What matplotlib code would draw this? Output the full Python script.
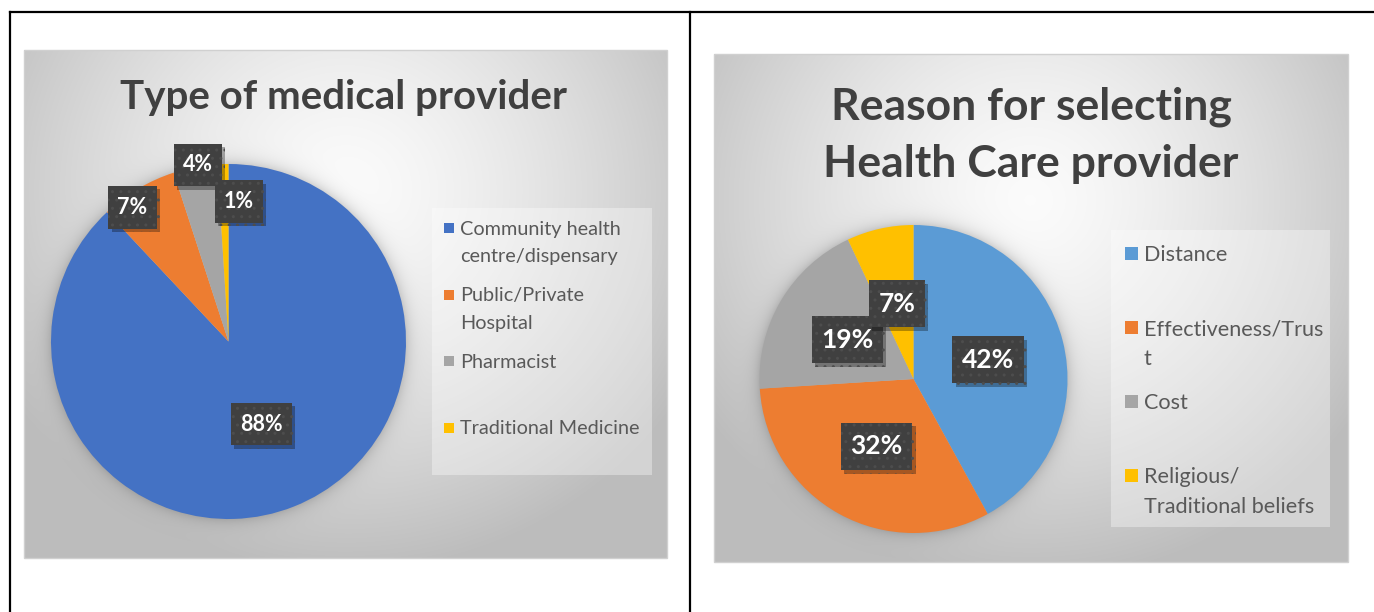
import numpy as np
import matplotlib
matplotlib.use("Agg")
import matplotlib.pyplot as plt
from matplotlib.patches import Rectangle
from matplotlib.path import Path
import matplotlib.patheffects as pe

plt.rcParams['font.family'] = ['Lato', 'DejaVu Sans']
plt.rcParams['hatch.linewidth'] = 1.0

# ---- data ----
provider_labels = ["Community health\ncentre/dispensary", "Public/Private\nHospital",
                   "Pharmacist", "Traditional Medicine"]
provider_values = [88, 7, 4, 1]
provider_colors = ["#4472C4", "#ED7D31", "#A5A5A5", "#FFC000"]

reason_labels = ["Distance", "Effectiveness/Trus\nt", "Cost",
                 "Religious/\nTraditional beliefs"]
reason_values = [42, 32, 19, 7]
reason_colors = ["#5B9BD5", "#ED7D31", "#A5A5A5", "#FFC000"]

W, H = 1374, 612
fig = plt.figure(figsize=(W / 100, H / 100), dpi=100)
fig.patch.set_facecolor("white")

# background canvas in pixel coordinates
bg = fig.add_axes([0, 0, 1, 1])
bg.set_xlim(0, W)
bg.set_ylim(H, 0)
bg.axis("off")
bg.set_zorder(0)


def gradient_box(x0, y0, x1, y1, cx, cy, pie_c, pie_r):
    nx, ny = int(x1 - x0), int(y1 - y0)
    xs = np.linspace(x0, x1, nx)
    ys = np.linspace(y0, y1, ny)
    X, Y = np.meshgrid(xs, ys)
    rx = (X - cx) / ((x1 - x0) * 0.62)
    ry = (Y - cy) / ((y1 - y0) * 0.75)
    r = np.clip(np.sqrt(rx ** 2 + ry ** 2), 0, 1)
    v = 0.985 - (0.985 - 0.74) * r ** 1.4
    # soft shadow around the pie
    d = np.sqrt((X - pie_c[0]) ** 2 + (Y - pie_c[1]) ** 2) - pie_r
    sh = 0.16 * np.exp(-np.clip(d, 0, None) / 7.0)
    v = v * (1 - sh)
    img = np.dstack([v, v, v])
    bg.imshow(img, extent=(x0, x1, y1, y0), aspect="auto", zorder=1,
              interpolation="bilinear")
    bg.add_patch(Rectangle((x0, y0), x1 - x0, y1 - y0, fill=False,
                           edgecolor="#d0d0d0", lw=1.0, zorder=2))


# table borders
bg.plot([10, W], [12, 12], color="black", lw=1.6, zorder=5)
bg.plot([10, 10], [12, H], color="black", lw=1.6, zorder=5)
bg.plot([690, 690], [12, H], color="black", lw=1.6, zorder=5)

left_c, left_r = (228.5, 341.5), 177.5
right_c, right_r = (913.5, 379.0), 154.0

gradient_box(24, 50, 667, 558, 345, 190, left_c, left_r)
gradient_box(714, 54, 1348, 562, 1030, 200, right_c, right_r)

# chart titles
bg.text(344, 97, "Type of medical provider", ha="center", va="center",
        fontsize=29, fontweight="bold", color="#404040", zorder=6)
bg.text(1031, 107, "Reason for selecting", ha="center", va="center",
        fontsize=32, fontweight="bold", color="#404040", zorder=6)
bg.text(1031, 164, "Health Care provider", ha="center", va="center",
        fontsize=32, fontweight="bold", color="#404040", zorder=6)


def legend_block(box, x_marker, y_first, step, labels, colors, fs, msize,
                 line_gap):
    x0, y0, x1, y1 = box
    bg.add_patch(Rectangle((x0, y0), x1 - x0, y1 - y0, facecolor="white",
                           alpha=0.35, edgecolor="none", zorder=3))
    for i, (lab, col) in enumerate(zip(labels, colors)):
        y = y_first + i * step
        bg.add_patch(Rectangle((x_marker, y - msize / 2), msize, msize,
                               facecolor=col, edgecolor="none", zorder=6))
        for j, line in enumerate(lab.split("\n")):
            bg.text(x_marker + msize + 6, y + j * line_gap, line, ha="left",
                    va="center_baseline", fontsize=fs, color="#595959",
                    zorder=6)


legend_block((432, 208, 652, 475), 444, 228, 66.5, provider_labels,
             provider_colors, 14.3, 10, 27)
legend_block((1111, 230, 1330, 527), 1125, 253, 74, reason_labels,
             reason_colors, 15.6, 13, 30)


def pie_axes(center, r, values, colors):
    cx, cy = center
    ax = fig.add_axes([(cx - r) / W, (H - cy - r) / H, 2 * r / W, 2 * r / H])
    wedges, _ = ax.pie(values, colors=colors, startangle=90,
                       counterclock=False, radius=1.0,
                       wedgeprops=dict(linewidth=0))
    ax.set_xlim(-1, 1)
    ax.set_ylim(-1, 1)
    ax.axis("off")
    ax.set_zorder(2)
    ax.patch.set_alpha(0)
    return ax, wedges


class LabelBox:
    """Rectangle around a text with separate horizontal / vertical padding."""

    def __init__(self, padx, pady):
        self.padx, self.pady = padx, pady

    def __call__(self, x0, y0, width, height, mutation_size):
        px, py = self.padx * mutation_size, self.pady * mutation_size
        x0, y0 = x0 - px, y0 - py
        x1, y1 = x0 + width + 2 * px, y0 + height + 2 * py
        return Path([(x0, y0), (x1, y0), (x1, y1), (x0, y1), (x0, y0)],
                    closed=True)


def value_label(ax, x, y, text, fs, padx, pady):
    t = ax.text(x, y, text, ha="center", va="center", fontsize=fs,
                fontweight="bold", color="white", zorder=10,
                bbox=dict(boxstyle=LabelBox(padx, pady), facecolor="#404040",
                          edgecolor="#4d4d4d", hatch="..", linewidth=0))
    t.get_bbox_patch().set_path_effects([
        pe.SimplePatchShadow(offset=(2.5, -2.5), shadow_rgbFace="black", alpha=0.3),
        pe.Normal()])
    return t


# left pie
axl, wedges_l = pie_axes(left_c, left_r, provider_values, provider_colors)
# label placement: radial distance and angle nudge (degrees)
left_dist = [0.5, 0.93, 1.01, 0.79]
left_nudge = [0, 5, -1, -6]
for w, v, dist, nudge in zip(wedges_l, provider_values, left_dist, left_nudge):
    mid = np.deg2rad((w.theta1 + w.theta2) / 2 + nudge)
    value_label(axl, dist * np.cos(mid), dist * np.sin(mid), f"{v}%", 15.5,
                0.42, 0.5)

# right pie
axr, wedges_r = pie_axes(right_c, right_r, reason_values, reason_colors)
for w, v in zip(wedges_r, reason_values):
    mid = np.deg2rad((w.theta1 + w.theta2) / 2)
    value_label(axr, 0.5 * np.cos(mid), 0.5 * np.sin(mid), f"{v}%", 19,
                0.36, 0.44)

fig.savefig("out.png", dpi=100)
